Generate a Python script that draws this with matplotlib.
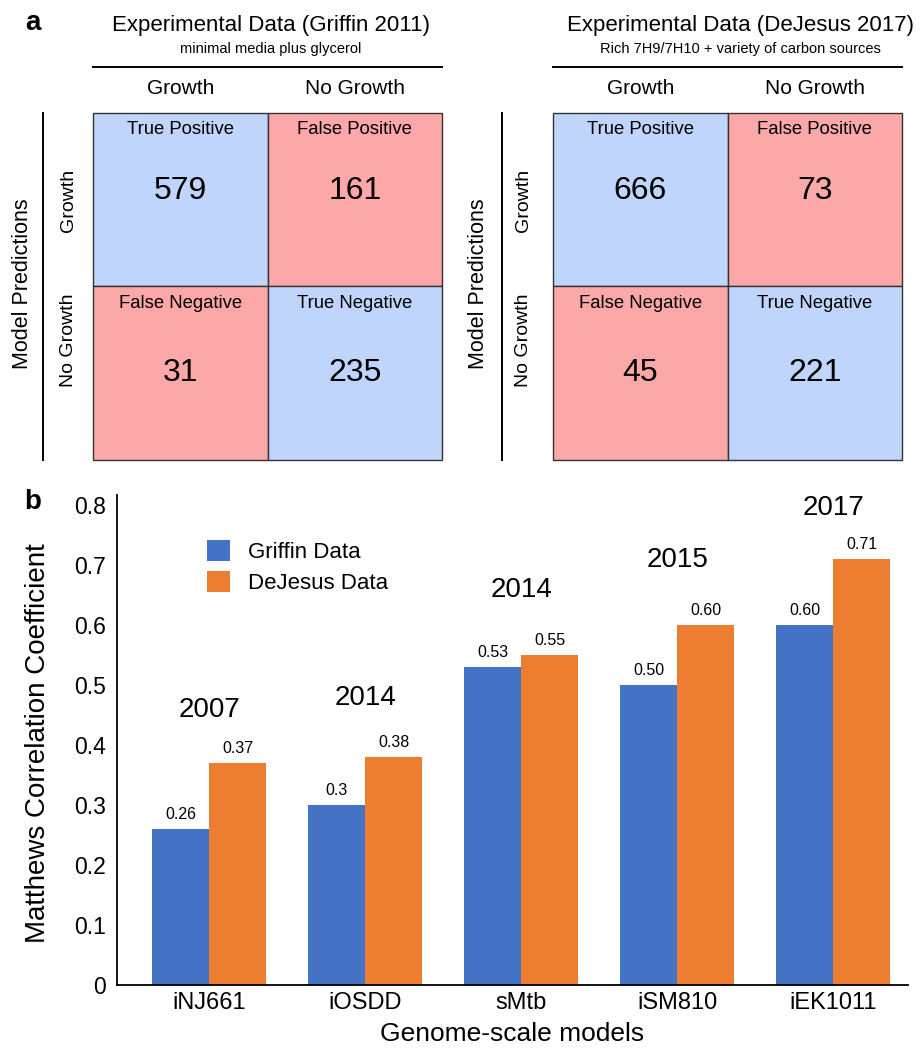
import matplotlib
matplotlib.use("Agg")
import matplotlib.pyplot as plt
from matplotlib.patches import Rectangle
from matplotlib.lines import Line2D
import numpy as np

plt.rcParams['font.family'] = ['Liberation Sans', 'DejaVu Sans']

# ---------------- data ----------------
matrix_titles = ["Experimental Data (Griffin 2011)", "Experimental Data (DeJesus 2017)"]
matrix_subtitles = ["minimal media plus glycerol", "Rich 7H9/7H10 + variety of carbon sources"]
class_labels = ["Growth", "No Growth"]
axis_label_rows = "Model Predictions"
cell_names = [["True Positive", "False Positive"],
              ["False Negative", "True Negative"]]
griffin_counts = [[579, 161], [31, 235]]
dejesus_counts = [[666, 73], [45, 221]]

models = ["iNJ661", "iOSDD", "sMtb", "iSM810", "iEK1011"]
years = ["2007", "2014", "2014", "2015", "2017"]
griffin_mcc = [0.26, 0.30, 0.53, 0.50, 0.60]
dejesus_mcc = [0.37, 0.38, 0.55, 0.60, 0.71]
griffin_text = ["0.26", "0.3", "0.53", "0.50", "0.60"]
dejesus_text = ["0.37", "0.38", "0.55", "0.60", "0.71"]
series_names = ["Griffin Data", "DeJesus Data"]
yticks = [0, 0.1, 0.2, 0.3, 0.4, 0.5, 0.6, 0.7, 0.8]
ytick_labels = ["0", "0.1", "0.2", "0.3", "0.4", "0.5", "0.6", "0.7", "0.8"]

# ---------------- layout (pixels) ----------------
W, H = 921, 1051
def fx(x): return x / W
def fy(y): return 1 - y / H

BLUE_CELL = "#BFD5FC"
RED_CELL = "#FDA8A8"
BLUE = "#4472C4"
ORANGE = "#ED7D31"

fig = plt.figure(figsize=(W / 100, H / 100), dpi=100)

mat_left = [93, 553]
mat_top, mat_bot = 113, 460
mat_w = 349
title_cx = [271, 740]
vline_x = [43, 502]
mp_x = [22, 478]
rowlab_x = [68, 523]
row_label_y = [200, 340]
number_y = [0.45, 0.50]
label_y = [0.095, 0.10]

for k, counts in enumerate([griffin_counts, dejesus_counts]):
    L = mat_left[k]
    ax = fig.add_axes([fx(L), fy(mat_bot), mat_w / W, (mat_bot - mat_top) / H])
    ax.set_xlim(0, 2)
    ax.set_ylim(2, 0)
    ax.axis('off')
    for i in range(2):
        for j in range(2):
            c = BLUE_CELL if i == j else RED_CELL
            ax.add_patch(Rectangle((j, i), 1, 1, facecolor=c, edgecolor="#333333",
                                   lw=1.0, clip_on=False))
            ax.text(j + 0.5, i + label_y[i], cell_names[i][j], ha='center', va='center',
                    fontsize=13.3)
            ax.text(j + 0.5, i + number_y[i], str(counts[i][j]), ha='center', va='center',
                    fontsize=23)
    # titles
    fig.text(fx(title_cx[k]), fy(25), matrix_titles[k], ha='center', va='center', fontsize=16)
    fig.text(fx(title_cx[k]), fy(49), matrix_subtitles[k], ha='center', va='center', fontsize=10.5)
    fig.add_artist(Line2D([fx(L), fx(L + mat_w)], [fy(67), fy(67)], color='black', lw=1.4))
    for j in range(2):
        fig.text(fx(L + mat_w * (j + 0.5) / 2), fy(88), class_labels[j], ha='center',
                 va='center', fontsize=15)
    # row labels
    fig.add_artist(Line2D([fx(vline_x[k]), fx(vline_x[k])], [fy(mat_top), fy(mat_bot)],
                          color='black', lw=1.4))
    fig.text(fx(mp_x[k]), fy(284), axis_label_rows, ha='center', va='center',
             rotation=90, fontsize=15.5)
    for i in range(2):
        fig.text(fx(rowlab_x[k]), fy(row_label_y[i]), class_labels[i], ha='center',
                 va='center', rotation=90, fontsize=14)

fig.text(fx(33), fy(23), "a", ha='center', va='center', fontsize=20, fontweight='bold')
fig.text(fx(33), fy(502), "b", ha='center', va='center', fontsize=20, fontweight='bold')

# ---------------- bar chart ----------------
axb = fig.add_axes([fx(117), fy(985), (908 - 117) / W, (985 - 495) / H])
x = np.arange(len(models))
w = 0.365
axb.bar(x - w / 2, griffin_mcc, w, color=BLUE, label=series_names[0])
axb.bar(x + w / 2, dejesus_mcc, w, color=ORANGE, label=series_names[1])
axb.set_xlim(-0.59, 4.48)
axb.set_ylim(0, 0.8167)
for s in ['top', 'right']:
    axb.spines[s].set_visible(False)
for s in ['left', 'bottom']:
    axb.spines[s].set_linewidth(1.3)
axb.set_yticks(yticks)
axb.set_yticklabels(ytick_labels)
axb.set_xticks(x)
axb.set_xticklabels(models)
axb.tick_params(axis='y', length=0, pad=8, labelsize=16.5)
axb.tick_params(axis='x', length=0, pad=5, labelsize=17)

for i in range(len(models)):
    axb.annotate(griffin_text[i], (x[i] - w / 2, griffin_mcc[i]), xytext=(0, 10.5),
                 textcoords='offset points', ha='center', va='center', fontsize=11.5)
    axb.annotate(dejesus_text[i], (x[i] + w / 2, dejesus_mcc[i]), xytext=(0, 10.5),
                 textcoords='offset points', ha='center', va='center', fontsize=11.5)

year_gap = [0.088, 0.098, 0.108, 0.108, 0.085]
for i in range(len(models)):
    top = max(griffin_mcc[i], dejesus_mcc[i])
    axb.text(x[i], top + year_gap[i], years[i], ha='center', va='center', fontsize=20)

fig.text(fx(38), fy(743), "Matthews Correlation Coefficient", rotation=90,
         ha='center', va='center', fontsize=20)
fig.text(fx(512), fy(1034), "Genome-scale models", ha='center', va='center', fontsize=19)

axb.legend(loc='upper left', bbox_to_anchor=(fx(207), fy(540)),
           bbox_transform=fig.transFigure, frameon=False, fontsize=16,
           handlelength=1.04, handleheight=1.1, handletextpad=0.8,
           labelspacing=0.35, borderpad=0, borderaxespad=0)

fig.savefig("out.png", dpi=100)
